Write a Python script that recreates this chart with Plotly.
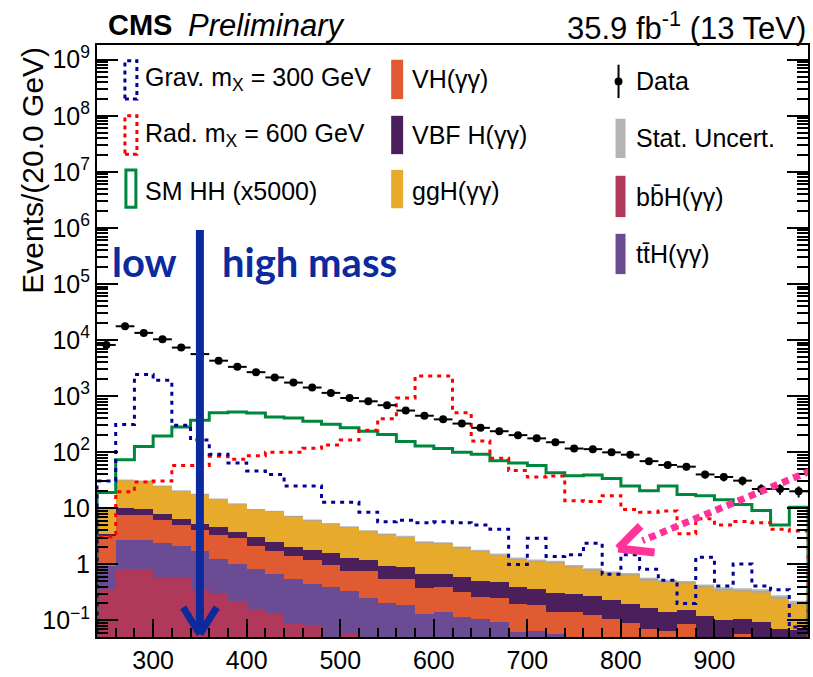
import numpy as np
import plotly.graph_objects as go

# ---------------- binning ----------------
edges = list(range(240, 1001, 20))          # 20 GeV bins, 240-1000 GeV
centers = [e + 10 for e in edges[:-1]]

# ---------------- observed data ----------------
data = [8170, 17600, 13400, 10300, 7330, 5610, 4280, 3320, 2670, 2150,
        1740, 1420, 1140, 923, 807, 687, 552, 446, 384, 323,
        271, 236, 201, 176, 150, 116, 113, 99, 90, 69,
        59, 55, 40, 36, 31, 22, 22, 20]

# ---------------- signal shapes ----------------
grav300 = [30.6, 310, 2430, 1910, 301, 164, 92, 64, 46, 40,
           25, 25, 12.7, 12.7, 8.5, 5.7, 6.1, 5.5, 5.7, 5.5,
           5.0, 4.2, 0.99, 2.9, 1.38, 1.48, 2.37, 0.66, 1.48, 0.81,
           0.52, 0.20, 1.33, 0.41, 1.01, 0.41, 0.35, 0.076]
rad600 = [3.1, 19.6, 29.4, 30.6, 57.5, 57.5, 84, 75, 86, 99,
          99, 117, 134, 164, 246, 395, 923, 2270, 2270, 504,
          158, 78, 47, 36, 37.5, 13.6, 13.1, 16.7, 9.5, 8.5,
          8.9, 3.5, 6.5, 5.0, 5.8, 5.5, 4.2, 3.9]
sm_hh_x5000 = [19.1, 73, 126, 193, 282, 369, 504, 518, 497, 423,
               406, 354, 314, 271, 236, 207, 154, 129, 116, 99,
               92, 70, 64, 58, 43, 38, 39, 34, 25, 20.5,
               25, 17.6, 16.7, 14.2, 11.6, 9.1, 5.0, 10.4]

# ---------------- single-Higgs backgrounds (stacked) ----------------
bbH = [0.36, 0.81, 0.81, 0.58, 0.56, 0.36, 0.29, 0.22, 0.16, 0.13,
       0.088, 0.081, 0.045, 0.058, 0.045, 0.04, 0.04, 0.03, 0.03, 0.03,
       0.03, 0.03, 0.03, 0.03, 0.03, 0.02, 0.02, 0.02, 0.02, 0.02,
       0.02, 0.02, 0.02, 0.02, 0.02, 0.02, 0.02, 0.02]
ttH = [0.56, 1.90, 1.90, 1.79, 1.59, 1.33, 0.97, 0.79, 0.65, 0.55,
       0.45, 0.37, 0.34, 0.27, 0.21, 0.16, 0.15, 0.10, 0.11, 0.084,
       0.074, 0.064, 0.031, 0.034, 0.028, 0.02, 0.015, 0.015, 0.015, 0.01,
       0.01, 0.01, 0.01, 0.01, 0.01, 0.01, 0.01, 0.01]
VH = [2.28, 4.93, 4.73, 3.71, 2.82, 2.37, 2.05, 1.89, 1.34, 1.06,
      0.84, 0.72, 0.60, 0.44, 0.49, 0.34, 0.35, 0.25, 0.25, 0.20,
      0.16, 0.16, 0.135, 0.124, 0.082, 0.10, 0.091, 0.072, 0.053, 0.039,
      0.034, 0.055, 0.015, 0.015, 0.028, 0.015, 0.01, 0.01]
VBF = [0.30, 2.36, 2.04, 1.88, 1.53, 1.25, 1.33, 0.89, 0.95, 0.79,
       0.69, 0.59, 0.59, 0.52, 0.46, 0.38, 0.35, 0.30, 0.29, 0.27,
       0.23, 0.22, 0.19, 0.17, 0.17, 0.16, 0.14, 0.12, 0.11, 0.10,
       0.076, 0.069, 0.072, 0.058, 0.049, 0.049, 0.031, 0.027]
ggH = [6.5, 21.8, 21.1, 17.0, 13.9, 12.5, 9.96, 8.1, 6.38, 6.22,
       5.07, 4.32, 3.73, 3.35, 2.69, 2.49, 2.21, 1.79, 1.69, 1.41,
       1.24, 1.01, 0.87, 0.80, 0.79, 0.62, 0.54, 0.48, 0.46, 0.37,
       0.36, 0.32, 0.29, 0.26, 0.24, 0.24, 0.19, 0.14]
# relative MC statistical uncertainty on the stacked total
stat_rel = [0.05, 0.02, 0.02, 0.02, 0.02, 0.02, 0.02, 0.025, 0.025, 0.025,
            0.03, 0.03, 0.03, 0.03, 0.035, 0.035, 0.035, 0.04, 0.04, 0.04,
            0.045, 0.045, 0.05, 0.05, 0.05, 0.05, 0.055, 0.055, 0.06, 0.06,
            0.06, 0.065, 0.065, 0.07, 0.07, 0.07, 0.075, 0.08]

# ---------------- tick labels ----------------
x_tickvals = [300, 400, 500, 600, 700, 800, 900]
y_tickvals = [1e-1, 1, 10, 1e2, 1e3, 1e4, 1e5, 1e6, 1e7, 1e8, 1e9]
y_ticktext = ["10<sup>\u22121</sup>", "1", "10", "10<sup>2</sup>", "10<sup>3</sup>",
              "10<sup>4</sup>", "10<sup>5</sup>", "10<sup>6</sup>", "10<sup>7</sup>",
              "10<sup>8</sup>", "10<sup>9</sup>"]

# ---------------- colours ----------------
C_GGH = "#e8aa2a"
C_VBF = "#4a1f5c"
C_VH = "#e05a32"
C_TTH = "#6b4c94"
C_BBH = "#b0385a"
C_STAT = "rgba(165,165,165,0.8)"
C_GRAV = "#000099"
C_RAD = "#ff0000"
C_HH = "#00873e"
C_ARROW = "#0b2a9e"
C_PINK = "#ff3399"

FONT = "Liberation Sans, Arial, Helvetica, sans-serif"
FLOOR = 1e-3  # below the visible y range, closes the outlined histograms

fig = go.Figure()

# stacked single-Higgs backgrounds, bottom to top
for name, vals, col in [("bbH", bbH, C_BBH), ("ttH", ttH, C_TTH), ("VH", VH, C_VH),
                        ("VBF", VBF, C_VBF), ("ggH", ggH, C_GGH)]:
    fig.add_trace(go.Bar(x=centers, y=vals, width=20, name=name,
                         marker=dict(color=col, line=dict(width=0)),
                         showlegend=False))

# statistical uncertainty band on the stack total
total = np.array(bbH) + np.array(ttH) + np.array(VH) + np.array(VBF) + np.array(ggH)
lo = total * (1 - np.array(stat_rel))
hi = total * (1 + np.array(stat_rel))
band_x = list(edges[:-1]) + [edges[-1]]
fig.add_trace(go.Scatter(x=band_x, y=list(lo) + [lo[-1]], mode="lines",
                         line=dict(width=0, shape="hv"), showlegend=False,
                         hoverinfo="skip"))
fig.add_trace(go.Scatter(x=band_x, y=list(hi) + [hi[-1]], mode="lines",
                         line=dict(width=0, shape="hv"), fill="tonexty",
                         fillcolor=C_STAT, showlegend=False, hoverinfo="skip"))


def step_outline(vals):
    xs = [edges[0]] + list(edges[:-1]) + [edges[-1], edges[-1]]
    ys = [FLOOR] + list(vals) + [vals[-1], FLOOR]
    return xs, ys


for vals, col, dash in [(sm_hh_x5000, C_HH, "solid"),
                        (rad600, C_RAD, "4px,5px"),
                        (grav300, C_GRAV, "4px,5px")]:
    xs, ys = step_outline(vals)
    fig.add_trace(go.Scatter(x=xs, y=ys, mode="lines",
                             line=dict(color=col, width=3, dash=dash, shape="hv"),
                             showlegend=False, hoverinfo="skip"))

# data points
fig.add_trace(go.Scatter(
    x=centers, y=data, mode="markers",
    marker=dict(color="black", size=8),
    error_x=dict(type="constant", value=10, width=0, thickness=2, color="black"),
    error_y=dict(type="data", array=list(np.sqrt(data)), width=0, thickness=2,
                 color="black"),
    showlegend=False))

# ---------------- layout helpers (plot-area pixel -> paper) ----------------
L, T, W, H = 97, 45, 713, 602


def px(x):
    return (x - L) / W


def py(y):
    return (T + H - y) / H


shapes = []
annotations = []


def legend_box(x0, x1, y0, y1, fill=None, line_col=None, dash="solid"):
    shapes.append(dict(type="rect", xref="paper", yref="paper",
                       x0=px(x0), x1=px(x1), y0=py(y1), y1=py(y0),
                       fillcolor=fill if fill else "rgba(0,0,0,0)",
                       line=dict(color=line_col if line_col else "rgba(0,0,0,0)",
                                 width=3 if line_col else 0, dash=dash)))


def legend_text(x, y, text):
    annotations.append(dict(xref="paper", yref="paper", x=px(x), y=py(y),
                            xanchor="left", yanchor="middle", showarrow=False,
                            text=text, font=dict(family=FONT, size=25, color="black")))


# left column
legend_box(125, 137, 61, 100, line_col=C_GRAV, dash="4px,4px")
legend_text(143, 80, "Grav. m<sub>X</sub> = 300 GeV")
legend_box(125, 137, 117, 156, line_col=C_RAD, dash="4px,4px")
legend_text(143, 137, "Rad. m<sub>X</sub> = 600 GeV")
legend_box(126, 136, 172, 210, line_col=C_HH)
legend_text(143, 193, "SM HH (x5000)")
# middle column
legend_box(392, 404, 60, 100, fill=C_VH)
legend_text(411, 80, "VH(\u03b3\u03b3)")
legend_box(392, 404, 117, 156, fill=C_VBF)
legend_text(411, 137, "VBF H(\u03b3\u03b3)")
legend_box(392, 404, 172, 211, fill=C_GGH)
legend_text(411, 193, "ggH(\u03b3\u03b3)")
# right column
shapes.append(dict(type="line", xref="paper", yref="paper", x0=px(620), x1=px(620),
                   y0=py(99), y1=py(65), line=dict(color="black", width=2)))
shapes.append(dict(type="circle", xref="paper", yref="paper",
                   x0=px(616), x1=px(624), y0=py(86), y1=py(78),
                   fillcolor="black", line=dict(color="black", width=0)))
legend_text(636, 82, "Data")
legend_box(617, 627, 120, 160, fill="#b4b4b4")
legend_text(636, 140, "Stat. Uncert.")
legend_box(617, 627, 178, 220, fill=C_BBH)
legend_text(636, 200, "bb\u0304H(\u03b3\u03b3)")
legend_box(617, 627, 237, 278, fill=C_TTH)
legend_text(636, 258, "tt\u0304H(\u03b3\u03b3)")

# low / high mass boundary at 350 GeV
m_split = 350
shapes.append(dict(type="line", xref="x", yref="paper", x0=m_split, x1=m_split,
                   y0=py(233), y1=py(641), line=dict(color=C_ARROW, width=8)))
for dx in (-18, 18):
    shapes.append(dict(type="line", xref="x", yref="paper", x0=m_split + dx,
                       x1=m_split, y0=py(617), y1=py(644),
                       line=dict(color=C_ARROW, width=7)))
annotations.append(dict(xref="paper", yref="paper", x=px(145), y=py(266),
                        xanchor="center", yanchor="middle", showarrow=False,
                        text="<b>low</b>",
                        font=dict(family="Lato, sans-serif", size=40, color=C_ARROW)))
annotations.append(dict(xref="paper", yref="paper", x=px(310), y=py(266),
                        xanchor="center", yanchor="middle", showarrow=False,
                        text="<b>high mass</b>",
                        font=dict(family="Lato, sans-serif", size=40, color=C_ARROW)))

# pink pointer towards the 800 GeV region
shapes.append(dict(type="line", xref="x", yref="paper", x0=1003, x1=823,
                   y0=py(478), y1=py(549),
                   line=dict(color=C_PINK, width=7, dash="7px,5px")))
for ex, ey in ((821, 534), (836, 561)):
    shapes.append(dict(type="line", xref="x", yref="paper", x0=797, x1=ex,
                       y0=py(557), y1=py(ey), line=dict(color=C_PINK, width=8)))

# header texts
annotations.append(dict(xref="paper", yref="paper", x=px(106), y=py(25),
                        xanchor="left", yanchor="middle", showarrow=False,
                        text="<b>CMS</b>",
                        font=dict(family=FONT, size=29, color="black")))
annotations.append(dict(xref="paper", yref="paper", x=px(186), y=py(25),
                        xanchor="left", yanchor="middle", showarrow=False,
                        text="<i>Preliminary</i>",
                        font=dict(family=FONT, size=31, color="black")))
annotations.append(dict(xref="paper", yref="paper", x=px(810), y=py(26),
                        xanchor="right", yanchor="middle", showarrow=False,
                        text="35.9 fb<sup>-1</sup> (13 TeV)",
                        font=dict(family=FONT, size=31, color="black")))
# y-axis title, aligned to the top end of the axis
annotations.append(dict(xref="paper", yref="paper", x=px(32), y=py(45),
                        xanchor="center", yanchor="top", showarrow=False,
                        textangle=-90, text="Events/(20.0 GeV)",
                        font=dict(family=FONT, size=30, color="black")))

y_minor = [m * 10.0 ** d for d in range(-2, 10) for m in range(2, 10)]

fig.update_layout(
    width=813, height=677,
    margin=dict(l=L, r=813 - L - W, t=T, b=677 - T - H, pad=0),
    paper_bgcolor="white", plot_bgcolor="white",
    barmode="stack", bargap=0,
    showlegend=False,
    font=dict(family=FONT, color="black"),
    shapes=shapes, annotations=annotations,
    xaxis=dict(range=[240, 1000], tickmode="array", tickvals=x_tickvals,
               ticks="inside", ticklen=18, tickwidth=1.5, tickcolor="black",
               minor=dict(tick0=240, dtick=20, ticks="inside", ticklen=9,
                          tickwidth=1.5, tickcolor="black", showgrid=False),
               showline=True, linewidth=2, linecolor="black", mirror=True,
               showgrid=False, zeroline=False,
               tickfont=dict(family=FONT, size=25, color="black")),
    yaxis=dict(type="log", range=[-1.298, 9.263], tickmode="array",
               tickvals=y_tickvals, ticktext=y_ticktext,
               ticks="inside", ticklen=21, tickwidth=1.5, tickcolor="black",
               minor=dict(tickmode="array", tickvals=y_minor, ticks="inside",
                          ticklen=11, tickwidth=1.5, tickcolor="black",
                          showgrid=False),
               showline=True, linewidth=2, linecolor="black", mirror="ticks",
               showgrid=False, zeroline=False,
               tickfont=dict(family=FONT, size=25, color="black")),
)

fig.write_html("out.html")
